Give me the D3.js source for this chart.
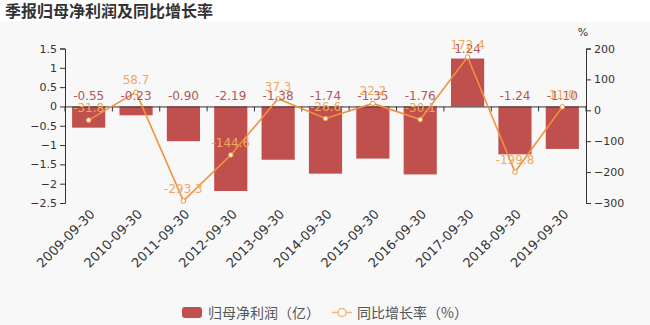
<!DOCTYPE html>
<html><head><meta charset="utf-8">
<script src="https://cdn.jsdelivr.net/npm/d3@7"></script>
<style>body{margin:0;background:#fff;}svg{display:block;}</style>
</head><body><svg id="c" width="650" height="325"></svg>
<script>
const categories = ["2009-09-30","2010-09-30","2011-09-30","2012-09-30","2013-09-30","2014-09-30","2015-09-30","2016-09-30","2017-09-30","2018-09-30","2019-09-30"];
const profit = [-0.55,-0.23,-0.90,-2.19,-1.38,-1.74,-1.35,-1.76,1.24,-1.24,-1.10];
const growth = [-31.8,58.7,-293.3,-144.6,37.3,-26.6,22.2,-30.1,172.4,-199.8,11.0];
const leftTicks = [1.5,1,0.5,0,-0.5,-1,-1.5,-2,-2.5];
const rightTicks = [200,100,0,-100,-200,-300];

const svg = d3.select("#c");
svg.append("rect").attr("width",650).attr("height",325).attr("fill","#f8f8f8");
svg.append("rect").attr("width",650).attr("height",21).attr("fill","#ffffff");
svg.append("text").attr("x",5).attr("y",17).attr("font-family","Noto Sans CJK SC").attr("font-weight","bold").attr("font-size",16).attr("fill","#333").text("季报归母净利润及同比增长率");

const L=65,R=586,T=48.5,B=203;
const xb = d3.scaleBand().domain(categories).range([L,R]);
const yL = d3.scaleLinear().domain([-2.5,1.5]).range([B,T]);
const yR = d3.scaleLinear().domain([-300,200]).range([B,T]);
const font = "DejaVu Sans, sans-serif";

// bars
svg.append("g").selectAll("rect").data(profit).join("rect")
  .attr("x",(d,i)=>xb(categories[i])+xb.bandwidth()*0.15)
  .attr("width",xb.bandwidth()*0.7)
  .attr("y",d=>yL(Math.max(0,d)))
  .attr("height",d=>Math.abs(yL(d)-yL(0)))
  .attr("fill","#c0504d");

// left axis
const gl = svg.append("g").attr("transform",`translate(${L},0)`)
  .call(d3.axisLeft(yL).tickValues(leftTicks).tickFormat(d3.format("~g")).tickSize(5).tickSizeOuter(5));
// right axis
const gr = svg.append("g").attr("transform",`translate(${R},0)`)
  .call(d3.axisRight(yR).tickValues(rightTicks).tickSize(5).tickSizeOuter(5));
// x axis at zero
const gx = svg.append("g").attr("transform",`translate(0,${yL(0)})`)
  .call(d3.axisBottom(xb).tickSize(5).tickSizeOuter(0).tickFormat(""));
gx.selectAll(".tick line").attr("transform",`translate(${-xb.bandwidth()/2},0)`);
gx.append("line").attr("x1",R).attr("x2",R).attr("y1",0).attr("y2",5).attr("stroke","#333");
[gl,gr,gx].forEach(g=>{
  g.selectAll("path,line").attr("stroke","#333");
  g.selectAll("text").attr("font-family",font).attr("font-size",11).attr("fill","#333");
});

// x labels
svg.append("g").selectAll("text").data(categories).join("text")
  .attr("transform",d=>`translate(${xb(d)+xb.bandwidth()/2+7},${B+12}) rotate(-45)`)
  .attr("text-anchor","end").attr("font-family",font).attr("font-size",13).attr("fill","#333")
  .text(d=>d);

svg.append("text").attr("x",583).attr("y",36).attr("text-anchor","middle").attr("font-family",font).attr("font-size",11).attr("fill","#333").text("%");

// line
const cx = (i)=>xb(categories[i])+xb.bandwidth()/2;
svg.append("path").datum(growth)
  .attr("d",d3.line().x((d,i)=>cx(i)).y(d=>yR(d)))
  .attr("fill","none").attr("stroke","#f0923e").attr("stroke-width",1.6);
svg.append("g").selectAll("circle").data(growth).join("circle")
  .attr("cx",(d,i)=>cx(i)).attr("cy",d=>yR(d)).attr("r",2.3)
  .attr("fill","#fff").attr("stroke","#f0923e").attr("stroke-width",1);

// bar labels
svg.append("g").selectAll("text").data(profit).join("text")
  .attr("x",(d,i)=>cx(i)).attr("y",d=>yL(Math.max(0,d))-6)
  .attr("text-anchor","middle").attr("font-family",font).attr("font-size",12).attr("fill","#b0585a")
  .text(d=>d.toFixed(2));
// line labels
svg.append("g").selectAll("text").data(growth).join("text")
  .attr("x",(d,i)=>cx(i)).attr("y",d=>yR(d)-8)
  .attr("text-anchor","middle").attr("font-family",font).attr("font-size",12).attr("fill","#f0a860")
  .text(d=>d.toFixed(1));

// legend
const lg = svg.append("g");
lg.append("rect").attr("x",182).attr("y",307).attr("width",20).attr("height",11).attr("rx",3).attr("fill","#c0504d");
lg.append("text").attr("x",208).attr("y",318).attr("font-family","Noto Sans CJK SC").attr("font-size",14).attr("fill","#555").text("归母净利润（亿）");
lg.append("line").attr("x1",332).attr("x2",352).attr("y1",312.5).attr("y2",312.5).attr("stroke","#f0b878").attr("stroke-width",1.5);
lg.append("circle").attr("cx",342).attr("cy",312.5).attr("r",4).attr("fill","#fff").attr("stroke","#f0b878").attr("stroke-width",1.5);
lg.append("text").attr("x",357).attr("y",318).attr("font-family","Noto Sans CJK SC").attr("font-size",14).attr("fill","#555").text("同比增长率（%）");
</script></body></html>
